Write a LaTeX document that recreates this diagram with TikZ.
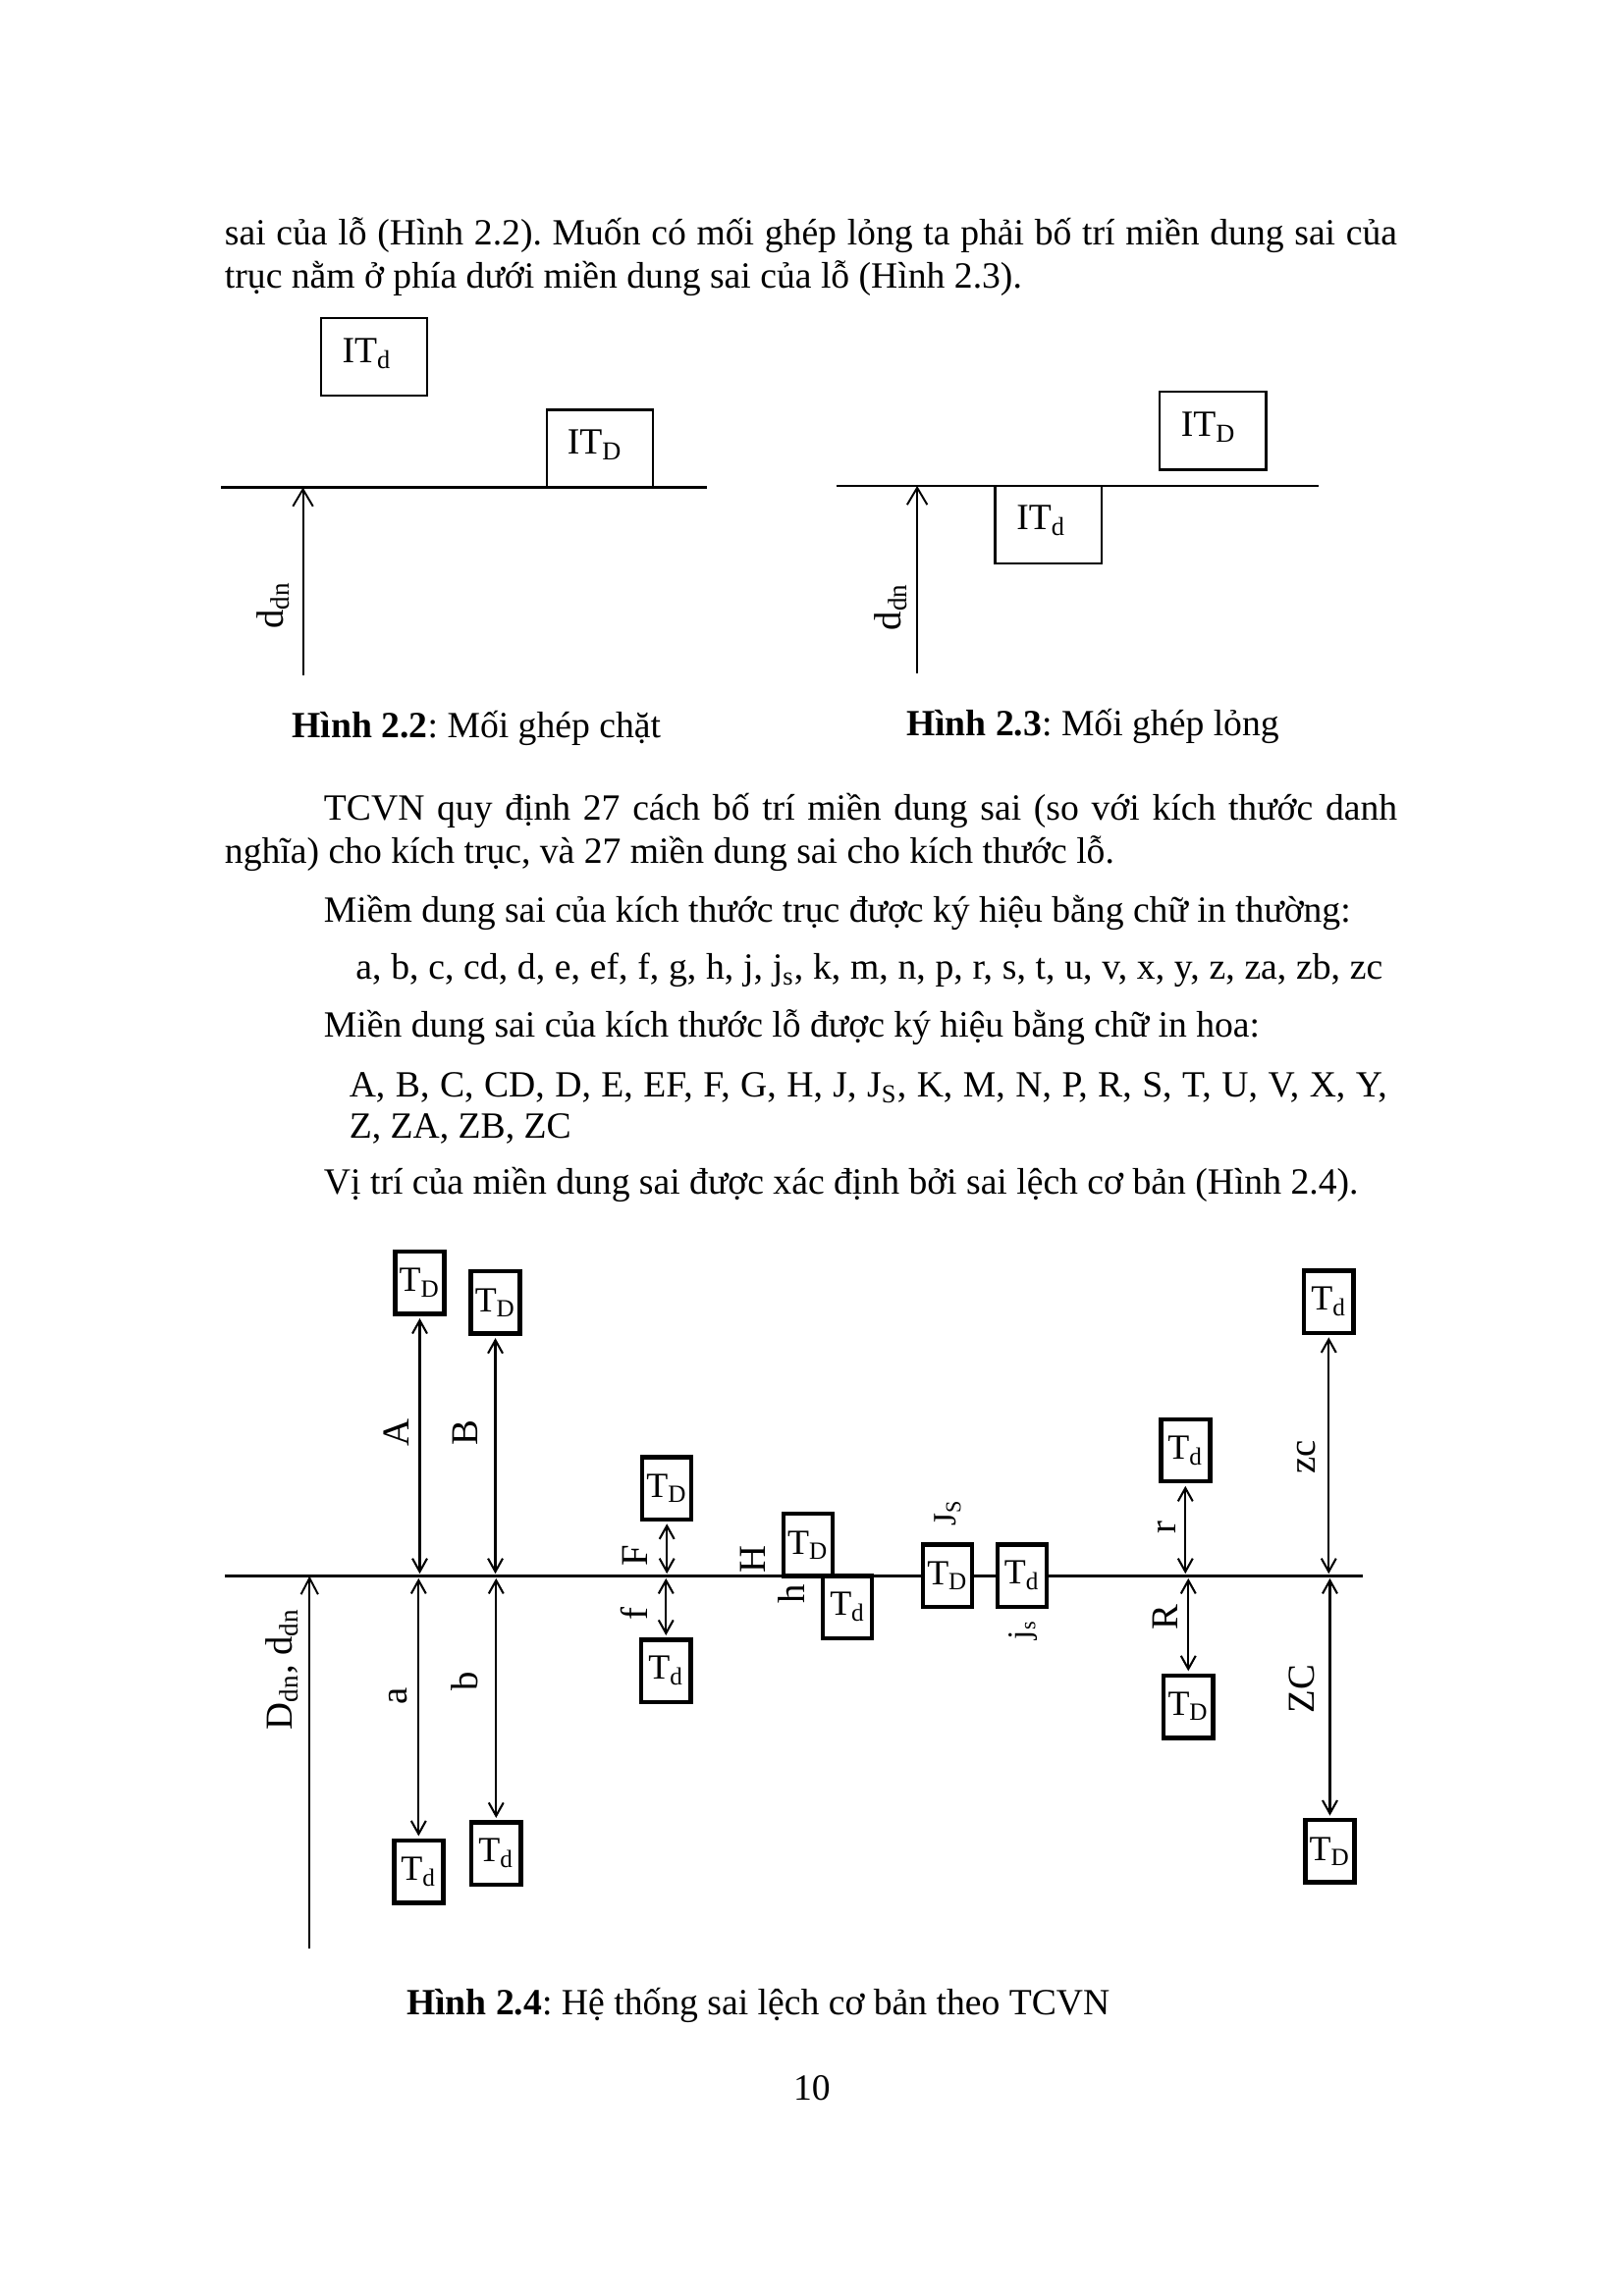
\documentclass[tikz,border=0pt]{standalone}
\usepackage{fontspec}
\setmainfont{Liberation Serif}
\usetikzlibrary{arrows.meta,calc}
\frenchspacing
\tikzset{
  body/.style={anchor=base west, inner sep=0pt, font=\fontsize{13.6}{16}\selectfont},
  itbox/.style={draw, line width=0.8pt, fill=white, minimum width=13.74mm, minimum height=10.04mm, inner sep=0pt},
  itlabel/.style={anchor=base west, inner sep=0pt, font=\fontsize{13.6}{16}\selectfont},
  tbox/.style={draw, line width=1.6pt, fill=white, minimum width=6.35mm, minimum height=8.05mm, inner sep=0pt, font=\fontsize{13}{15}\selectfont},
  vlab/.style={rotate=90, inner sep=0pt, font=\fontsize{14}{16}\selectfont},
  vlabs/.style={rotate=90, inner sep=0pt, font=\fontsize{12}{14}\selectfont},
  axis/.style={line width=0.8pt},
  uparrow/.style={line width=0.7pt, -{Straight Barb[length=2.2mm,width=2.6mm]}},
  bigarrow/.style={line width=0.7pt, -{Straight Barb[length=2.1mm,width=2.2mm]}},
  dar/.style={line width=0.75pt, {Straight Barb[length=1.7mm,width=1.9mm]}-{Straight Barb[length=1.7mm,width=1.9mm]}, shorten <=0.3mm, shorten >=0.3mm}
}
\begin{document}
\begin{tikzpicture}[x=0.18953mm, y=-0.18941mm]
\fill[white] (0,0) rectangle (1108,1568);
\useasboundingbox (0,0) rectangle (1108,1568);

% ---------- running text ----------
\node[body] (p1) at (153,167) {\makebox[151.62mm][s]{sai của lỗ (Hình 2.2). Muốn có mối ghép lỏng ta phải bố trí miền dung sai của}};
\node[body] (p2) at (153,197) {trục nằm ở phía dưới miền dung sai của lỗ (Hình 2.3).};

% ---------- Hinh 2.2 ----------
\coordinate (L22a) at (150.8,332.9);
\coordinate (L22b) at (482.4,332.9);
\draw[axis] (L22a) -- (L22b);
\node[itbox] (itd1) at (255.1,243.9) {};
\node[itbox] (itD1) at (409.2,306.4) {};
\node[itlabel] (itd1t) at ($(itd1.west)+(15,4)$) {IT\textsubscript{d}};
\node[itlabel] (itD1t) at ($(itD1.west)+(14.5,3.7)$) {IT\textsubscript{D}};
\coordinate (A22) at (206.7,461.2);
\draw[uparrow] (A22) -- (A22 |- L22a);
\node[vlab] (d22) at (186.3,413.3) {d\textsubscript{dn}};
\node[body] (cap22) at (199,504) {\textbf{Hình 2.2}: Mối ghép chặt};

% ---------- Hinh 2.3 ----------
\coordinate (L23a) at (570.7,331.8);
\coordinate (L23b) at (899.9,331.8);
\draw[axis] (L23a) -- (L23b);
\node[itbox] (itD2) at (827.6,294.2) {};
\node[itbox] (itd2) at (715.2,358.3) {};
\node[itlabel] (itD2t) at ($(itD2.west)+(14.8,4.1)$) {IT\textsubscript{D}};
\node[itlabel] (itd2t) at ($(itd2.west)+(15,3.7)$) {IT\textsubscript{d}};
\coordinate (A23) at (625.8,459.8);
\draw[uparrow] (A23) -- (A23 |- L23a);
\node[vlab] (d23) at (607.8,414.5) {d\textsubscript{dn}};
\node[body] (cap23) at (618,502.5) {\textbf{Hình 2.3}: Mối ghép lỏng};

% ---------- text between figures ----------
\node[body] (p3) at (220.7,560) {\makebox[138.8mm][s]{TCVN quy định 27 cách bố trí miền dung sai (so với kích thước danh}};
\node[body] (p4) at (153,589.5) {nghĩa) cho kích trục, và 27 miền dung sai cho kích thước lỗ.};
\node[body] (p5) at (220.7,629.5) {Miềm dung sai của kích thước trục được ký hiệu bằng chữ in thường:};
\node[body] (p6) at (242.4,669) {\makebox[132.8mm][s]{a, b, c, cd, d, e, ef, f, g, h, j, j\textsubscript{s}, k, m, n, p, r, s, t, u, v, x, y, z, za, zb, zc}};
\node[body] (p7) at (220.7,708) {Miền dung sai của kích thước lỗ được ký hiệu bằng chữ in hoa:};
\node[body] (p8) at (238,749) {\makebox[134.2mm][s]{A, B, C, CD, D, E, EF, F, G, H, J, J\textsubscript{S}, K, M, N, P, R, S, T, U, V, X, Y,}};
\node[body] (p9) at (238,777) {Z, ZA, ZB, ZC};
\node[body] (p10) at (220.7,815.5) {Vị trí của miền dung sai được xác định bởi sai lệch cơ bản (Hình 2.4).};

% ---------- Hinh 2.4 ----------
\coordinate (L0) at (153.5,1076.3);
\coordinate (L1) at (930,1076.3);
\draw[axis] (L0) -- (L1);
\coordinate (Dbot) at (211.2,1331);
\draw[bigarrow] (Dbot) -- (Dbot |- L0);
\node[vlab] (Dlab) at (192.4,1140) {D\textsubscript{dn}, d\textsubscript{dn}};

% A / a
\node[tbox] (bA) at (286.4,876) {T\textsubscript{D}};
\draw[dar] (bA.south) -- (bA.south |- L0);
\node[vlab] (lA) at (270.2,978.5) {A};
\node[tbox] (ba) at (285.6,1278.2) {T\textsubscript{d}};
\draw[dar] (ba.north |- L0) -- (ba.north);
\node[vlab] (la) at (271.5,1158.6) {a};

% B / b
\node[tbox] (bB) at (338,889.5) {T\textsubscript{D}};
\draw[dar] (bB.south) -- (bB.south |- L0);
\node[vlab] (lB) at (317.2,978.5) {B};
\node[tbox] (bb) at (338.5,1265.8) {T\textsubscript{d}};
\draw[dar] (bb.north |- L0) -- (bb.north);
\node[vlab] (lb) at (317,1147.9) {b};

% F / f
\node[tbox] (bF) at (455,1016.3) {T\textsubscript{D}};
\draw[dar] (bF.south) -- (bF.south |- L0);
\node[vlab] (lF) at (433,1062.3) {F};
\node[tbox] (bf) at (454.4,1141.1) {T\textsubscript{d}};
\draw[dar] (bf.north |- L0) -- (bf.north);
\node[vlab] (lf) at (433,1101.8) {f};

% H / h
\node[tbox] (bH) at (551.3,1055.05) {T\textsubscript{D}};
\node[vlab] (lH) at (513.8,1064.7) {H};
\node[tbox] (bh) at (578.3,1097.55) {T\textsubscript{d}};
\node[vlab] (lh) at (540.1,1088.3) {h};

% Js / js
\node[tbox] (bJs) at (646.5,1076.1) {T\textsubscript{D}};
\node[vlabs] (lJs) at (646.6,1033) {J\textsubscript{S}};
\node[tbox] (bjs) at (697.3,1076.1) {T\textsubscript{d}};
\node[vlabs] (ljs) at (698,1113.2) {j\textsubscript{s}};

% r / R
\node[tbox] (br) at (808.8,990.5) {T\textsubscript{d}};
\draw[dar] (br.south) -- (br.south |- L0);
\node[vlab] (lr) at (796.2,1043.4) {r};
\node[tbox] (bR) at (810.8,1165.5) {T\textsubscript{D}};
\draw[dar] (bR.north |- L0) -- (bR.north);
\node[vlab] (lR) at (795.2,1104.5) {R};

% zc / ZC
\node[tbox] (bzc) at (906.6,889) {T\textsubscript{d}};
\draw[dar] (bzc.south) -- (bzc.south |- L0);
\node[vlab] (lzc) at (891.5,995) {zc};
\node[tbox] (bZC) at (907.4,1264.2) {T\textsubscript{D}};
\draw[dar] (bZC.north |- L0) -- (bZC.north);
\node[vlab] (lZC) at (888.4,1153.6) {ZC};

\node[body] (cap24) at (277,1376) {\textbf{Hình 2.4}: Hệ thống sai lệch cơ bản theo TCVN};
\node[anchor=base, inner sep=0pt, font=\fontsize{13.6}{16}\selectfont] (pg) at (554,1434) {10};
\end{tikzpicture}
\end{document}
